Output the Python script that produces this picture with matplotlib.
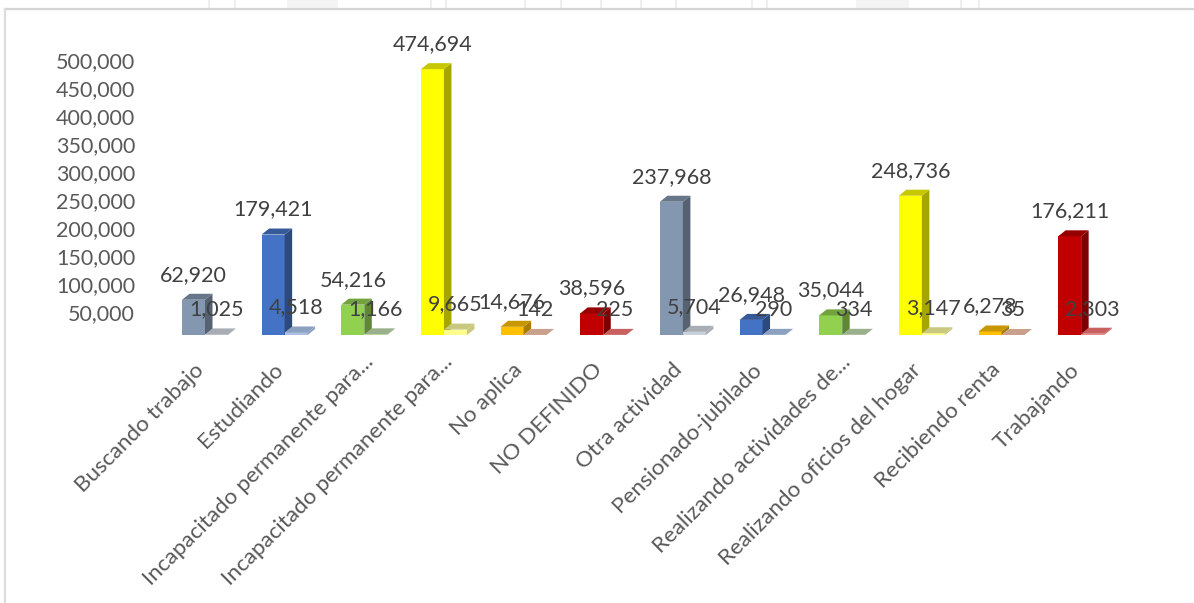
import numpy as np
import matplotlib
matplotlib.use('Agg')
import matplotlib.pyplot as plt
from matplotlib.patches import Polygon, Rectangle
from matplotlib.colors import to_rgb
from matplotlib.transforms import ScaledTranslation

categories = ['Buscando trabajo', 'Estudiando', 'Incapacitado permanente para...',
              'Incapacitado permanente para...', 'No aplica', 'NO DEFINIDO',
              'Otra actividad', 'Pensionado-jubilado', 'Realizando actividades de...',
              'Realizando oficios del hogar', 'Recibiendo renta', 'Trabajando']
serie1 = [62920, 179421, 54216, 474694, 14676, 38596, 237968, 26948, 35044, 248736, 6278, 176211]
serie2 = [1025, 4518, 1166, 9665, 142, 225, 5704, 290, 334, 3147, 35, 2303]
colores = ['#8497B0', '#4472C4', '#92D050', '#FFFF00', '#FFC000', '#C00000']
tapas = ['#A8ACB4', '#8CA0C0', '#9AB08C', '#C8C880', '#C8A08C', '#C86060']
yticks = [50000, 100000, 150000, 200000, 250000, 300000, 350000, 400000, 450000, 500000]

plt.rcParams['font.family'] = ['Lato', 'DejaVu Sans']

W, H = 1194, 603
fig = plt.figure(figsize=(W / 100, H / 100), dpi=100)

# fondo: marca de agua arriba y marco
bg = fig.add_axes([0, 0, 1, 1])
bg.set_xlim(0, W)
bg.set_ylim(H, 0)
bg.axis('off')
for a in [208, 234, 430, 445, 524, 560, 600, 640, 675, 751, 766, 960, 978]:
    bg.add_patch(Rectangle((a, 0), 1.5, 9, fc='#EEEEEE', lw=0))
for a, b in [(287, 338), (856, 909)]:
    bg.add_patch(Rectangle((a, 0), b - a, 9, fc='#F4F4F4', lw=0))
bg.plot([5, 1194], [9, 9], color='#D4D4D4', lw=1.6)
bg.plot([5, 5], [9, 603], color='#DDDDDD', lw=1.6)

# una categoria = 79.65 px, 50,000 = 28 px
left, y0 = 142.0, 335.0
x0 = 205.0
ax = fig.add_axes([left / W, (H - y0) / H, (W - left) / W, y0 / H])
ax.set_xlim((left - x0) / 79.65, (W - x0) / 79.65)
ax.set_ylim(0, y0 / 28 * 50000)
ax.patch.set_alpha(0)

bw = 23 / 79.65
dx = 7.5 / 79.65
dy = 6 / 28 * 50000


def tono(c, k, a=1.0):
    r = np.array(to_rgb(c)) * k
    return tuple(r * a + (1 - a))


def barra(x, v, c, tapa):
    ax.bar(x, v, bw, align='edge', color=tono(c, 1, 0.45) if tapa else c, linewidth=0, zorder=3)
    lado = [(x + bw, 0), (x + bw + dx, dy), (x + bw + dx, v + dy), (x + bw, v)]
    arriba = [(x, v), (x + dx, v + dy), (x + bw + dx, v + dy), (x + bw, v)]
    ax.add_patch(Polygon(lado, fc=tapa or tono(c, 0.65), lw=0, zorder=3, clip_on=False))
    ax.add_patch(Polygon(arriba, fc=tapa or tono(c, 0.78), lw=0, zorder=3, clip_on=False))


xs = np.arange(len(categories))
for i in xs:
    barra(i - bw, serie1[i], colores[i % 6], None)
    barra(i, serie2[i], colores[i % 6], tapas[i % 6])

for i in xs:
    for x, v in ((i - bw / 2, serie1[i]), (i + bw / 2, serie2[i])):
        ax.annotate(f'{v:,}', (x, v), xytext=(0, 18), textcoords='offset points',
                    ha='center', va='center', fontsize=15.5, color='#404040', zorder=5)

for s in ax.spines.values():
    s.set_visible(False)
ax.set_yticks(yticks)
ax.yaxis.set_major_formatter(lambda v, p: f'{int(v):,}')
ax.tick_params(axis='y', length=0, pad=5, labelsize=15.5, labelcolor='#595959')
ax.tick_params(axis='x', length=0, pad=12)
ax.set_xticks(xs + 0.02)
ax.set_xticklabels(categories, rotation=45, ha='right', rotation_mode='anchor',
                   fontsize=16.2, color='#595959')
off = ScaledTranslation(0, -5.5 / 100, fig.dpi_scale_trans)
for t in ax.get_yticklabels():
    t.set_transform(t.get_transform() + off)
# las etiquetas cortadas con ... quedan mas a la derecha
corta = ScaledTranslation(-3 / 100, 0, fig.dpi_scale_trans)
larga = ScaledTranslation(-13 / 100, -8 / 100, fig.dpi_scale_trans)
for t in ax.get_xticklabels():
    t.set_transform(t.get_transform() + (corta if t.get_text().endswith('...') else larga))

fig.savefig('out.png', dpi=100)
